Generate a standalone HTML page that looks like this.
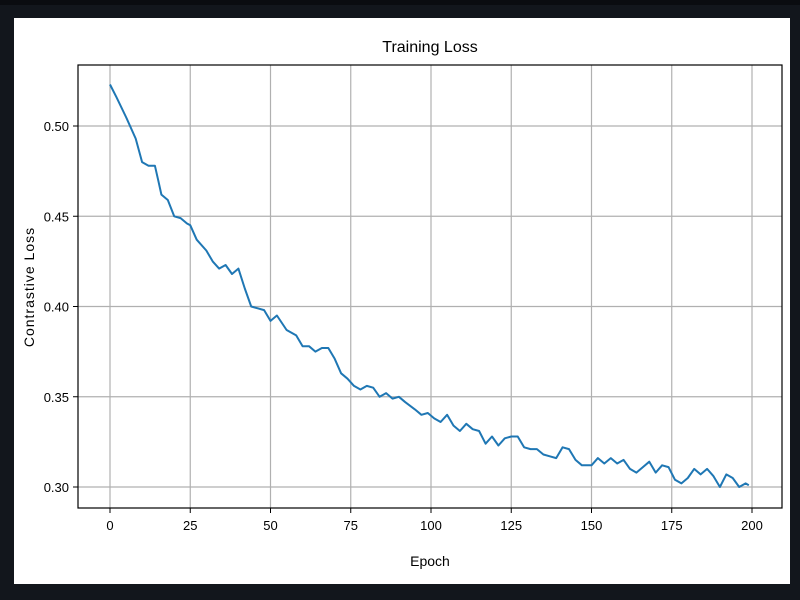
<!DOCTYPE html>
<html><head><style>
html,body{margin:0;padding:0;background:#12161c;}
#c{position:relative;width:800px;height:600px;overflow:hidden;background:#12161c;}
</style></head><body><div id="c">
<svg width="800" height="600" xmlns="http://www.w3.org/2000/svg" font-family="Liberation Sans, DejaVu Sans, sans-serif">
<rect x="0" y="0" width="800" height="5" fill="#0a0c10"/>
<rect x="14" y="18" width="776" height="566" fill="#ffffff"/>
<g id="grid" stroke="#b0b0b0" stroke-width="1.2"></g>
<rect x="78" y="65" width="704" height="443" fill="none" stroke="#000" stroke-width="1.2"/>
<g id="ticks" font-size="13" fill="#000"></g>
<polyline id="line" fill="none" stroke="#1f77b4" stroke-width="2" stroke-linejoin="round"/>
<text x="430" y="52" font-size="16" text-anchor="middle">Training Loss</text>
<text x="430" y="566" font-size="14" text-anchor="middle">Epoch</text>
<text transform="translate(34,287) rotate(-90)" font-size="14" text-anchor="middle" letter-spacing="1">Contrastive Loss</text>
</svg></div>
<script>
var X=function(e){return 110+e*3.21},Y=function(v){return 126+(0.5-v)*1805};
var ns="http://www.w3.org/2000/svg",g=document.getElementById('grid'),t=document.getElementById('ticks');
function el(p,tag,a,txt){var e=document.createElementNS(ns,tag);for(var k in a)e.setAttribute(k,a[k]);if(txt)e.textContent=txt;p.appendChild(e);}
for(var e=0;e<=200;e+=25){var x=X(e);el(g,'line',{x1:x,x2:x,y1:65,y2:508});el(t,'line',{x1:x,x2:x,y1:508,y2:513,stroke:'#000'});el(t,'text',{x:x,y:530,'text-anchor':'middle'},String(e));}
[0.30,0.35,0.40,0.45,0.50].forEach(function(v){var y=Y(v);el(g,'line',{x1:78,x2:782,y1:y,y2:y});el(t,'line',{x1:73,x2:78,y1:y,y2:y,stroke:'#000'});el(t,'text',{x:69,y:y+5,'text-anchor':'end'},v.toFixed(2));});
var d=[0,.523,2,.516,5,.505,8,.493,10,.48,12,.478,14,.478,15,.47,16,.462,18,.459,20,.45,22,.449,24,.446,25,.445,27,.437,30,.431,32,.425,34,.421,36,.423,38,.418,40,.421,42,.41,44,.4,46,.399,48,.398,50,.392,52,.395,55,.387,58,.384,60,.378,62,.378,64,.375,66,.377,68,.377,70,.371,72,.363,74,.36,76,.356,78,.354,80,.356,82,.355,84,.35,86,.352,88,.349,90,.35,92,.347,95,.343,97,.34,99,.341,101,.338,103,.336,105,.34,107,.334,109,.331,111,.335,113,.332,115,.331,117,.324,119,.328,121,.323,123,.327,125,.328,127,.328,129,.322,131,.321,133,.321,135,.318,137,.317,139,.316,141,.322,143,.321,145,.315,147,.312,150,.312,152,.316,154,.313,156,.316,158,.313,160,.315,162,.31,164,.308,166,.311,168,.314,170,.308,172,.312,174,.311,176,.304,178,.302,180,.305,182,.31,184,.307,186,.31,188,.306,190,.3,192,.307,194,.305,196,.3,198,.302,199,.301];
var p=[];for(var i=0;i<d.length;i+=2)p.push(X(d[i]).toFixed(1)+','+Y(d[i+1]).toFixed(1));
document.getElementById('line').setAttribute('points',p.join(' '));
</script>
</body></html>
